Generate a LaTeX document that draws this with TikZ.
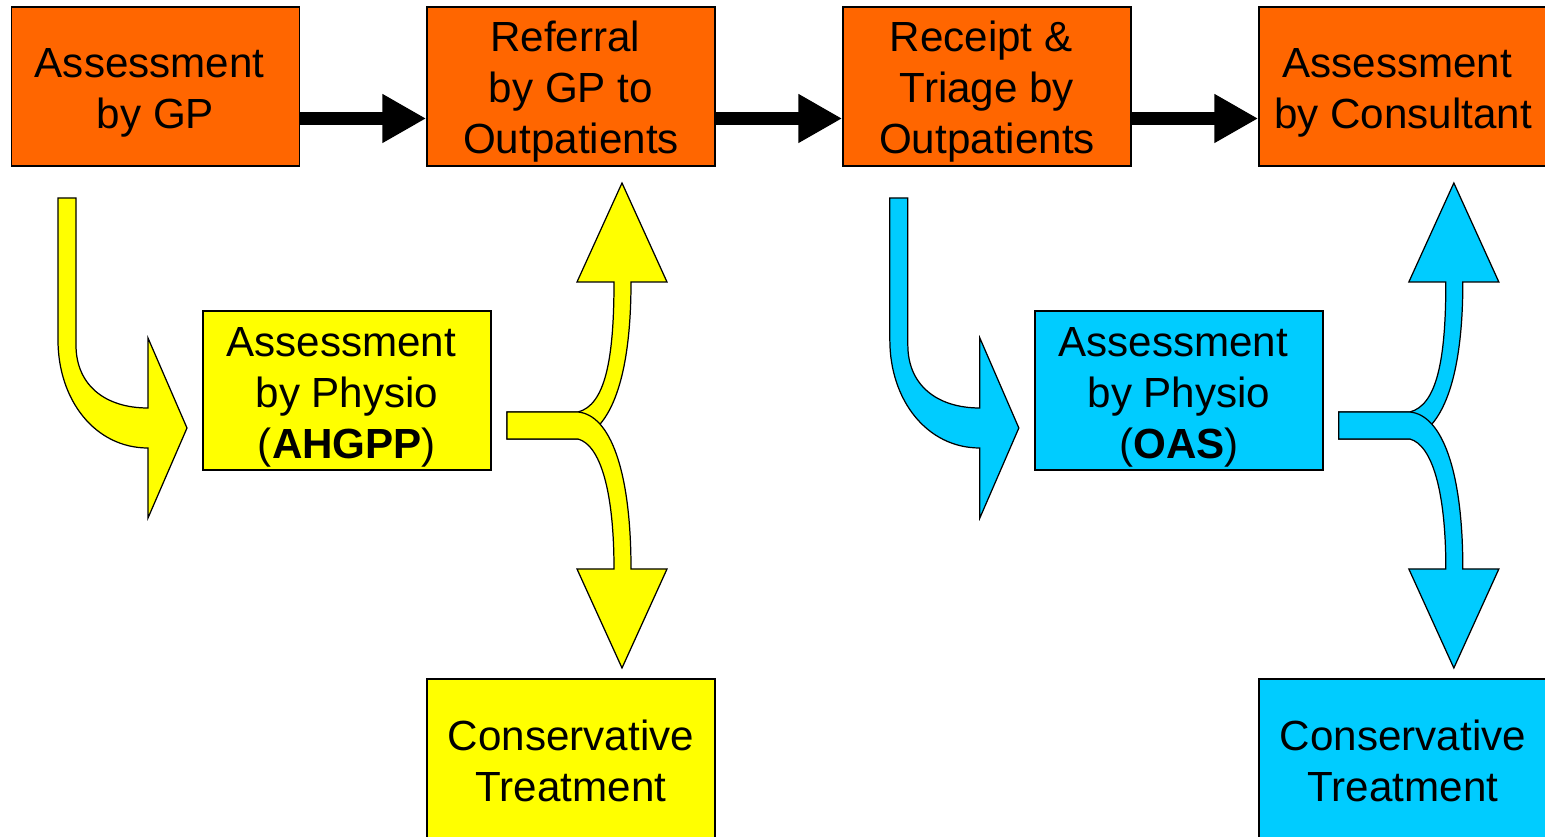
\documentclass[tikz,border=0pt]{standalone}
\usepackage{fontspec}
\setmainfont{Liberation Sans}
\usetikzlibrary{arrows.meta}
\definecolor{orng}{HTML}{FF6600}
\definecolor{ylw}{HTML}{FFFF00}
\definecolor{cyn}{HTML}{00CCFF}
\newcommand{\tsp}{\hspace*{0.278em}}
\begin{document}
\begin{tikzpicture}[x=0.02cm,y=-0.02cm,
 box/.style={draw=black,line width=0.9pt,minimum width=5.76cm,minimum height=3.18cm,inner sep=0pt},
 txt/.style={inner sep=0pt,align=center,font=\fontsize{24}{29}\selectfont},
 fat/.style={draw=black,line width=0.7pt,line join=miter},
 flow/.style={line width=0.26cm,-{Triangle[length=0.88cm,width=0.92cm]}}]
\useasboundingbox (0,0) rectangle (1545,837);
% top row
\node[box,fill=orng] (gp) at (155.5,86.5) {};
\node[box,fill=orng] (ref) at (571,86.5) {};
\node[box,fill=orng] (tri) at (987,86.5) {};
\node[box,fill=orng] (con) at (1403,86.5) {};
\node[txt] (gpt) at ([yshift=-0.12cm]gp.center) {Assessment\tsp\\by GP};
\node[txt] (reft) at ([yshift=-0.11cm]ref.center) {Referral\tsp\\by GP to\tsp\\Outpatients};
\node[txt] (trit) at ([yshift=-0.11cm]tri.center) {Receipt \&\tsp\\Triage by\tsp\\Outpatients};
\node[txt] (cont) at ([yshift=-0.12cm]con.center) {Assessment\tsp\\by Consultant};
\draw[flow] ([yshift=-0.64cm]gp.east) -- ([yshift=-0.64cm]ref.west);
\draw[flow] ([yshift=-0.64cm]ref.east) -- ([yshift=-0.64cm]tri.west);
\draw[flow] ([yshift=-0.64cm]tri.east) -- ([yshift=-0.64cm]con.west);
% physio boxes
\node[box,fill=ylw] (ph1) at (347,390.5) {};
\node[box,fill=ylw] (ct1) at (571,758.5) {};
\node[box,fill=cyn] (ph2) at (1179,390.5) {};
\node[box,fill=cyn] (ct2) at (1403,758.5) {};
\node[txt] (ph1t) at ([yshift=-0.14cm]ph1.center) {Assessment\tsp\\by Physio\\(\textbf{AHGPP})};
\node[txt] (ph2t) at ([yshift=-0.14cm]ph2.center) {Assessment\tsp\\by Physio\\(\textbf{OAS})};
\node[txt] (ct1t) at ([yshift=-0.04cm]ct1.center) {Conservative\\Treatment};
\node[txt] (ct2t) at ([yshift=-0.04cm]ct2.center) {Conservative\\Treatment};
% fat arrows
\foreach \dx/\col in {0/ylw,16.64/cyn}{
\begin{scope}[xshift=\dx cm]
 \draw[fat,fill=\col] (58,198) -- (76,198) -- (76,345)
   .. controls (76,385) and (105,408) .. (148,408) -- (148,338) -- (187,428)
   -- (148,518) -- (148,448) .. controls (95,448) and (58,400) .. (58,340) -- cycle;
 \draw[fat,fill=\col] (507,412) -- (578,412) .. controls (605,405) and (614,360) .. (614,282)
   -- (577,282) -- (622,183) -- (667,282) -- (631,282)
   .. controls (631,380) and (610,430) .. (578,439) -- (507,439) -- cycle;
 \draw[fat,fill=\col] (507,412) -- (578,412) .. controls (610,415) and (631,470) .. (631,569)
   -- (667,569) -- (622,668) -- (577,569) -- (614,569)
   .. controls (614,490) and (600,445) .. (578,439) -- (507,439) -- cycle;
\end{scope}}
\end{tikzpicture}
\end{document}
